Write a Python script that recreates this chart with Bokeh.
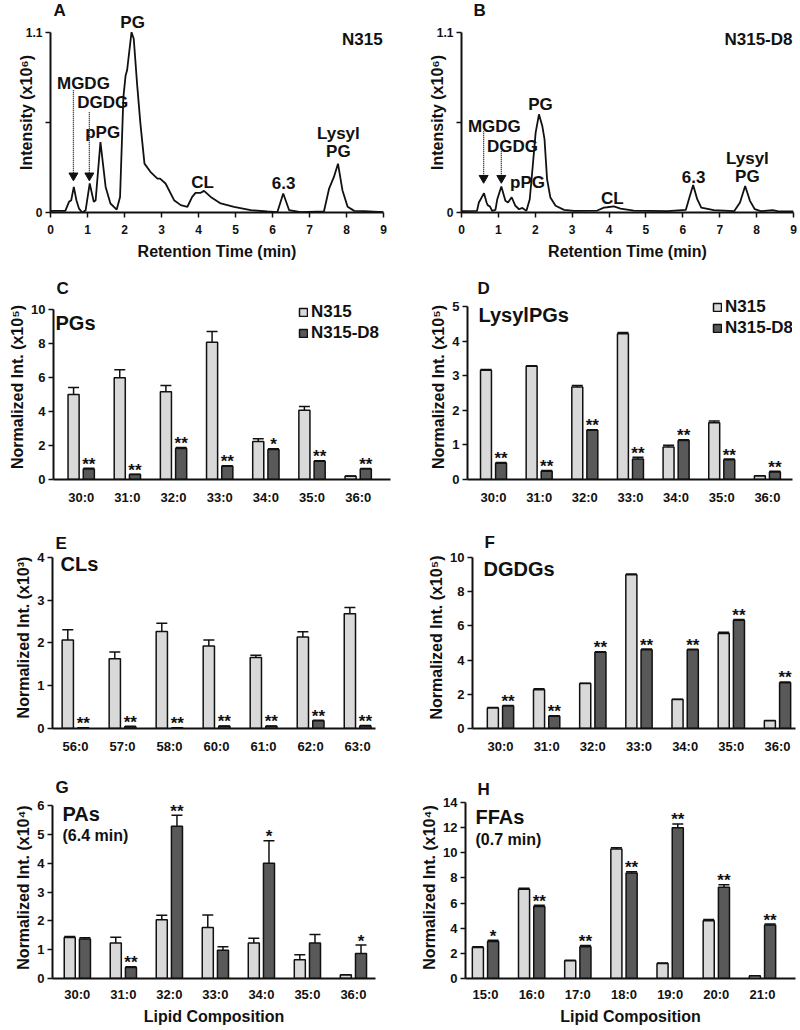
from bokeh.plotting import figure
from bokeh.models import (Range1d, FixedTicker, Label, Legend, LegendItem,
                          Whisker, TeeHead, ColumnDataSource)
from bokeh.layouts import column, row
from bokeh.embed import file_html
from bokeh.resources import INLINE
from bokeh.core.properties import value

FONT = "Liberation Sans"
LIGHT = "#d9d9d9"
DARK = "#595959"
INK = "#111111"

# ---------------- data: chromatograms (time in min, intensity x10^6) -------------
a_time = [0, 0.4, 0.5, 0.56, 0.63, 0.70, 0.77, 0.86, 0.95, 1.06,
          1.17, 1.22, 1.35, 1.49, 1.62, 1.79, 1.88, 1.97, 2.03, 2.07,
          2.19, 2.25, 2.34, 2.43, 2.54, 2.70, 2.89, 2.96, 3.11, 3.34,
          3.52, 3.70, 3.83, 3.92, 4.06, 4.15, 4.33, 4.60, 4.96, 5.41,
          5.86, 6.13, 6.29, 6.45, 6.76, 7.39, 7.53, 7.66, 7.77, 7.89,
          8.03, 8.21, 8.48, 9.0]
a_int = [0.01, 0.01, 0.065, 0.075, 0.156, 0.075, 0.024, 0.0, 0.014, 0.177,
         0.065, 0.075, 0.43, 0.156, 0.055, 0.018, 0.095, 0.704, 0.836, 0.867,
         1.1, 1.06, 0.785, 0.542, 0.298, 0.248, 0.207, 0.207, 0.177, 0.075,
         0.045, 0.035, 0.095, 0.12, 0.12, 0.132, 0.095, 0.055, 0.035, 0.014,
         0.006, 0.002, 0.116, 0.014, 0.002, 0.006, 0.146, 0.217, 0.298, 0.136,
         0.035, 0.01, 0.008, 0.002]
b_time = [0, 0.42, 0.47, 0.52, 0.61, 0.68, 0.71, 0.77, 0.83, 0.92,
          0.97, 1.08, 1.19, 1.26, 1.36, 1.46, 1.56, 1.65, 1.76, 1.85,
          1.94, 2.01, 2.10, 2.19, 2.25, 2.32, 2.41, 2.55, 2.78, 3.05,
          3.68, 3.86, 3.95, 4.13, 4.31, 4.67, 5.58, 6.08, 6.19, 6.28,
          6.39, 6.50, 6.84, 7.39, 7.55, 7.69, 7.82, 7.95, 8.11, 8.43,
          8.57, 9.0]
b_int = [0.008, 0.01, 0.061, 0.081, 0.118, 0.061, 0.045, 0.037, 0.01, 0.016,
         0.081, 0.158, 0.071, 0.061, 0.093, 0.041, 0.02, 0.028, 0.01, 0.081,
         0.305, 0.487, 0.599, 0.528, 0.447, 0.203, 0.091, 0.041, 0.016, 0.01,
         0.012, 0.03, 0.032, 0.037, 0.024, 0.012, 0.008, 0.016, 0.101, 0.168,
         0.081, 0.03, 0.014, 0.008, 0.061, 0.162, 0.071, 0.02, 0.008, 0.014,
         0.008, 0.006]
time_ticks = [0, 1, 2, 3, 4, 5, 6, 7, 8, 9]

# ---------------- data: bar panels -------------
c30_36 = ["30:0", "31:0", "32:0", "33:0", "34:0", "35:0", "36:0"]
cl_cats = ["56:0", "57:0", "58:0", "60:0", "61:0", "62:0", "63:0"]
ffa_cats = ["15:0", "16:0", "17:0", "18:0", "19:0", "20:0", "21:0"]

pg_n315 = [5.0, 5.98, 5.16, 8.08, 2.24, 4.08, 0.19]
pg_n315_err = [0.41, 0.47, 0.37, 0.62, 0.15, 0.22, 0.02]
pg_d8 = [0.62, 0.29, 1.82, 0.78, 1.76, 1.07, 0.62]
pg_d8_err = [0.04, 0.02, 0.06, 0.03, 0.05, 0.03, 0.03]
pg_sig = ["**", "**", "**", "**", "*", "**", "**"]

lpg_n315 = [3.16, 3.27, 2.67, 4.21, 0.94, 1.64, 0.10]
lpg_n315_err = [0.02, 0.02, 0.05, 0.04, 0.05, 0.05, 0.01]
lpg_d8 = [0.47, 0.24, 1.42, 0.59, 1.13, 0.57, 0.22]
lpg_d8_err = [0.02, 0.02, 0.02, 0.05, 0.02, 0.02, 0.02]
lpg_sig = ["**", "**", "**", "**", "**", "**", "**"]

cl_n315 = [2.07, 1.63, 2.27, 1.93, 1.66, 2.14, 2.68]
cl_n315_err = [0.24, 0.16, 0.19, 0.14, 0.05, 0.12, 0.15]
cl_d8 = [0.01, 0.04, 0.01, 0.05, 0.05, 0.18, 0.06]
cl_d8_err = [0.005, 0.01, 0.005, 0.01, 0.01, 0.01, 0.01]
cl_sig = ["**", "**", "**", "**", "**", "**", "**"]

dg_n315 = [1.2, 2.27, 2.63, 8.98, 1.69, 5.55, 0.45]
dg_n315_err = [0.02, 0.05, 0.02, 0.05, 0.02, 0.08, 0.02]
dg_d8 = [1.32, 0.72, 4.45, 4.6, 4.6, 6.32, 2.68]
dg_d8_err = [0.03, 0.03, 0.03, 0.04, 0.03, 0.05, 0.04]
dg_sig = ["**", "**", "**", "**", "**", "**", "**"]

pa_n315 = [1.42, 1.23, 2.04, 1.77, 1.23, 0.65, 0.12]
pa_n315_err = [0.04, 0.20, 0.15, 0.43, 0.17, 0.17, 0.01]
pa_d8 = [1.37, 0.38, 5.28, 0.98, 4.0, 1.23, 0.87]
pa_d8_err = [0.04, 0.03, 0.38, 0.12, 0.78, 0.30, 0.29]
pa_sig = ["", "**", "**", "", "*", "", "*"]

ffa_n315 = [2.47, 7.1, 1.42, 10.3, 1.2, 4.6, 0.2]
ffa_n315_err = [0.05, 0.08, 0.03, 0.1, 0.03, 0.1, 0.02]
ffa_d8 = [2.95, 5.72, 2.52, 8.4, 12.0, 7.25, 4.25]
ffa_d8_err = [0.1, 0.1, 0.1, 0.1, 0.3, 0.2, 0.08]
ffa_sig = ["*", "**", "**", "**", "**", "**", "**"]

# ---------------- layout geometry (page pixels) -------------
COL_X = [0, 400]
COL_W = [400, 398]
ROW_Y = [0, 264, 512, 756]
ROW_H = [264, 248, 244, 272]
BAR_W = 0.24
BAR_OFF = 0.165
LABEL_DY = 3


def make_fig(col, r, frame, x_range, y_range):
    fl, fr, ft, fb = frame
    ox, oy, w, h = COL_X[col], ROW_Y[r], COL_W[col], ROW_H[r]
    p = figure(width=w, height=h, x_range=x_range, y_range=y_range,
               min_border_left=fl - ox, min_border_right=ox + w - fr,
               min_border_top=ft - oy, min_border_bottom=oy + h - fb,
               output_backend="svg", toolbar_location=None)
    p.outline_line_color = None
    p.xgrid.visible = False
    p.ygrid.visible = False
    p.background_fill_color = "white"
    p.border_fill_color = "white"
    return p


def panel_letter(p, col, frame, lx, cy, letter):
    fl, fr, ft, fb = frame
    t = p.title
    t.text = letter
    t.align = "left"
    t.offset = lx - COL_X[col]
    t.text_font = FONT
    t.text_font_size = "17px"
    t.text_font_style = "bold"
    t.text_color = INK
    t.standoff = 2 * (ft - cy - 10)


def page_label(p, frame, px, py, text, size, align="left", baseline="middle"):
    fl, fr, ft, fb = frame
    p.add_layout(Label(x=px - fl, y=fb - py - LABEL_DY, x_units="screen", y_units="screen",
                       text=text, text_font=FONT, text_font_size=size,
                       text_font_style="bold", text_align=align,
                       text_baseline=baseline, text_color=INK))


def style_axis(ax, size="13px"):
    ax.axis_line_width = 2
    ax.axis_line_color = INK
    ax.major_tick_line_width = 1.5
    ax.major_tick_line_color = INK
    ax.major_tick_in = 0
    ax.major_tick_out = 5
    ax.minor_tick_line_color = None
    ax.major_label_text_font = FONT
    ax.major_label_text_font_style = "bold"
    ax.major_label_text_font_size = size
    ax.major_label_text_color = INK
    ax.axis_label_text_font = FONT
    ax.axis_label_text_font_style = "bold"
    ax.axis_label_text_font_size = "16px"
    ax.axis_label_text_color = INK


def chromatogram(col, t, inten, frame, letter, letter_pos, anns, arrows):
    p = make_fig(col, 0, frame, Range1d(0, 9), Range1d(0, 1.22))
    p.line(t, inten, line_color=INK, line_width=1.8)
    asrc = ColumnDataSource(dict(x=[a[0] for a in arrows], y0=[a[1] for a in arrows],
                                 y1=[a[2] for a in arrows]))
    p.segment(x0="x", y0="y0", x1="x", y1="y1", source=asrc, line_color=INK,
              line_width=1.3, line_dash="1 1")
    p.scatter(x="x", y="y1", source=asrc, marker="inverted_triangle", size=9,
              fill_color=INK, line_color=INK)
    tsrc = ColumnDataSource(dict(t=[a[0] for a in anns], x=[a[1] for a in anns],
                                 y=[a[2] for a in anns]))
    p.text(x="x", y="y", text="t", source=tsrc, text_font=value(FONT),
           text_font_style="bold", text_font_size="17px", text_align="center",
           text_baseline="middle", text_color=INK)
    xa = p.xaxis[0]
    style_axis(xa, "12px")
    xa.ticker = FixedTicker(ticks=time_ticks)
    xa.axis_label = "Retention Time (min)"
    xa.major_label_standoff = 7
    xa.axis_label_standoff = 6
    ya = p.yaxis[0]
    style_axis(ya, "12px")
    ya.ticker = FixedTicker(ticks=[0, 0.55, 1.1])
    ya.bounds = (0, 1.1)
    ya.major_label_overrides = {0: "0", 0.55: "", 1.1: "1.1"}
    ya.axis_label = "Intensity (x10\u2076)"
    ya.major_label_standoff = 3
    ya.axis_label_standoff = -12
    panel_letter(p, col, frame, letter_pos[0], letter_pos[1], letter)
    return p


def bar_panel(col, r, frame, cats, n1, e1, n2, e2, sig, x_lim, px_per_unit, y_ticks,
              ylabel, letter, letter_pos, titles, legend=None, xlabel=None,
              lab_standoff=10):
    fl, fr, ft, fb = frame
    p = make_fig(col, r, frame, Range1d(x_lim[0], x_lim[1]),
                 Range1d(0, (fb - ft) / px_per_unit))
    idx = list(range(len(cats)))
    src = ColumnDataSource(dict(
        xl=[i - BAR_OFF for i in idx], xd=[i + BAR_OFF for i in idx],
        n1=n1, n2=n2,
        lu=[v + e for v, e in zip(n1, e1)], ll=[v - e for v, e in zip(n1, e1)],
        du=[v + e for v, e in zip(n2, e2)], dl=[v - e for v, e in zip(n2, e2)],
        sig=sig))
    r1 = p.vbar(x="xl", top="n1", width=BAR_W, source=src, fill_color=LIGHT,
                line_color=INK, line_width=1.5)
    r2 = p.vbar(x="xd", top="n2", width=BAR_W, source=src, fill_color=DARK,
                line_color=INK, line_width=1.5)
    for base, up, lo in (("xl", "lu", "ll"), ("xd", "du", "dl")):
        p.add_layout(Whisker(base=base, upper=up, lower=lo, source=src,
                             line_color=INK, line_width=1.5,
                             upper_head=TeeHead(size=11, line_width=1.5, line_color=INK),
                             lower_head=TeeHead(size=11, line_width=1.5, line_color=INK)))
    p.text(x="xd", y="du", text="sig", source=src, text_font=value(FONT),
           text_font_style="bold", text_font_size="17px", text_align="center",
           text_baseline="alphabetic", y_offset=-4, text_color=INK)
    xa = p.xaxis[0]
    style_axis(xa, "13px")
    xa.ticker = FixedTicker(ticks=idx)
    xa.major_label_overrides = {i: c for i, c in enumerate(cats)}
    xa.major_tick_line_color = None
    xa.major_tick_out = 0
    xa.major_label_standoff = lab_standoff
    if xlabel:
        xa.axis_label = xlabel
        xa.axis_label_standoff = 3
    ya = p.yaxis[0]
    style_axis(ya, "13px")
    ya.ticker = FixedTicker(ticks=y_ticks)
    ya.bounds = (0, y_ticks[-1])
    ya.axis_label = ylabel
    ya.major_label_standoff = 3
    ya.axis_label_standoff = 2
    panel_letter(p, col, frame, letter_pos[0], letter_pos[1], letter)
    for (tx, ty, txt, sz) in titles:
        page_label(p, frame, tx, ty, txt, sz)
    if legend:
        lx, ly = legend
        lg = Legend(items=[LegendItem(label="N315", renderers=[r1]),
                           LegendItem(label="N315-D8", renderers=[r2])],
                    location=(lx - fl, fb - ly), glyph_width=10, glyph_height=10,
                    label_height=10, label_standoff=3, spacing=1, padding=0, margin=0,
                    label_text_font=FONT, label_text_font_style="bold",
                    label_text_font_size="17px", label_text_color=INK,
                    background_fill_alpha=0, border_line_color=None)
        p.add_layout(lg)
    return p


# ---------------- panels -------------
pA = chromatogram(0, a_time, a_int, (50, 383, 12, 212), "A", (3, 9),
                  [("PG", 2.22, 1.16), ("MGDG", 0.89, 0.789), ("DGDG", 1.41, 0.672),
                   ("pPG", 1.41, 0.489), ("CL", 4.11, 0.183), ("6.3", 6.30, 0.177),
                   ("Lysyl", 7.78, 0.483), ("PG", 7.78, 0.373), ("N315", 8.43, 1.057)],
                  [(0.62, 0.746, 0.225), (1.05, 0.611, 0.225)])
pB = chromatogram(1, b_time, b_int, (461, 793, 12, 212), "B", (412, 9),
                  [("PG", 2.14, 0.66), ("MGDG", 0.89, 0.526), ("DGDG", 1.38, 0.403),
                   ("pPG", 1.79, 0.183), ("CL", 4.09, 0.086), ("6.3", 6.29, 0.214),
                   ("Lysyl", 7.75, 0.33), ("PG", 7.75, 0.22), ("N315-D8", 8.05, 1.057)],
                  [(0.60, 0.495, 0.21), (1.08, 0.373, 0.21)])

frC = (53, 390, 294, 479)
pC = bar_panel(0, 1, frC, c30_36, pg_n315, pg_n315_err, pg_d8, pg_d8_err, pg_sig,
               (-0.6, 6.7), 17.0, [0, 2, 4, 6, 8, 10], "Normalized Int. (x10\u2075)",
               "C", (3, 287), [(55, 319, "PGs", "20px")], legend=(298, 343))
frD = (467, 792, 294, 479)
pD = bar_panel(1, 1, frD, c30_36, lpg_n315, lpg_n315_err, lpg_d8, lpg_d8_err, lpg_sig,
               (-0.57, 6.55), 34.6, [0, 1, 2, 3, 4, 5], "Normalized Int. (x10\u2075)",
               "D", (410, 287), [(478, 311, "LysylPGs", "20px")], legend=(712, 338))
frE = (52, 375, 546, 730)
pE = bar_panel(0, 2, frE, cl_cats, cl_n315, cl_n315_err, cl_d8, cl_d8_err, cl_sig,
               (-0.49, 6.38), 43.25, [0, 1, 2, 3, 4], "Normalized Int. (x10\u00b3)",
               "E", (3, 542), [(60, 562, "CLs", "20px")])
frF = (472, 795, 546, 730)
pF = bar_panel(1, 2, frF, c30_36, dg_n315, dg_n315_err, dg_d8, dg_d8_err, dg_sig,
               (-0.606, 6.39), 17.3, [0, 2, 4, 6, 8, 10], "Normalized Int. (x10\u2075)",
               "F", (412, 541), [(483, 567, "DGDGs", "20px")])
frG = (52, 375, 796, 978)
pG = bar_panel(0, 3, frG, c30_36, pa_n315, pa_n315_err, pa_d8, pa_d8_err, pa_sig,
               (-0.54, 6.48), 28.83, [0, 1, 2, 3, 4, 5, 6], "Normalized Int. (x10\u2074)",
               "G", (3, 786), [(62, 810, "PAs", "20px"), (62, 832, "(6.4 min)", "16px")],
               xlabel="Lipid Composition", lab_standoff=8)
frH = (465, 795, 796, 978)
pH = bar_panel(1, 3, frH, ffa_cats, ffa_n315, ffa_n315_err, ffa_d8, ffa_d8_err, ffa_sig,
               (-0.433, 6.715), 12.57, [0, 2, 4, 6, 8, 10, 12, 14],
               "Normalized Int. (x10\u2074)",
               "H", (412, 788), [(475, 813, "FFAs", "20px"), (475, 836, "(0.7 min)", "16px")],
               xlabel="Lipid Composition", lab_standoff=8)

layout = column(row(pA, pB), row(pC, pD), row(pE, pF), row(pG, pH))
open("out.html", "w").write(file_html(layout, INLINE))
